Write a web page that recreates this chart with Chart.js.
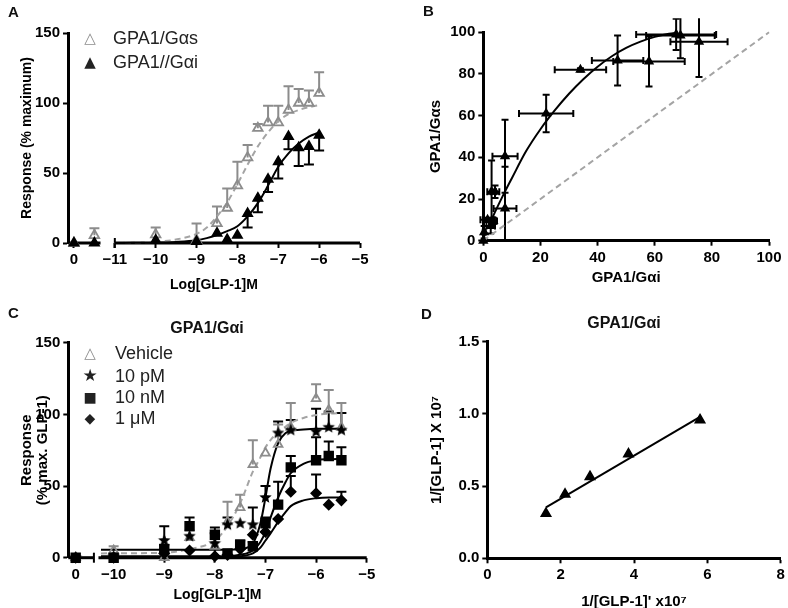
<!DOCTYPE html>
<html lang="en">
<head>
<meta charset="UTF-8">
<title>GPA1/Gαs vs GPA1/Gαi responses to GLP-1</title>
<script src="https://cdn.jsdelivr.net/npm/chart.js@4"></script>
<style>
  body { margin: 0; background: #fff; font-family: "Liberation Sans", Arial, Helvetica, sans-serif; color: #111; }
  #fig { position: relative; width: 788px; height: 608px; overflow: hidden; }
  canvas { position: absolute; }
  .lab { position: absolute; font-weight: bold; font-size: 15px; line-height: 15px; }
  .ttl { position: absolute; font-weight: bold; font-size: 16px; line-height: 16px; transform: translateX(-50%); white-space: nowrap; }
  .leg { position: absolute; font-size: 18px; line-height: 18px; white-space: nowrap; color: #222; }
  .leg .m { display: inline-block; width: 24px; text-align: center; font-family: "DejaVu Sans", sans-serif; font-size: 15px; vertical-align: 1px; }
  .grey { color: #8c8c8c; }
</style>
</head>
<body>
<div id="fig">
  <canvas id="chartA" width="394" height="300" style="left:0;top:0"></canvas>
  <canvas id="chartB" width="394" height="300" style="left:394px;top:0"></canvas>
  <canvas id="chartC" width="394" height="308" style="left:0;top:300px"></canvas>
  <canvas id="chartD" width="394" height="308" style="left:394px;top:300px"></canvas>

  <div class="lab" style="left:8px;top:4px">A</div>
  <div class="lab" style="left:423px;top:3px">B</div>
  <div class="lab" style="left:8px;top:305px">C</div>
  <div class="lab" style="left:421px;top:306px">D</div>

  <div class="ttl" style="left:207px;top:320px">GPA1/Gαi</div>
  <div class="ttl" style="left:624px;top:315px">GPA1/Gαi</div>

  <div class="leg" style="left:78px;top:29px"><span class="m grey" style="margin-right:11px">△</span>GPA1/Gαs</div>
  <div class="leg" style="left:78px;top:53px"><span class="m" style="margin-right:11px">▲</span>GPA1//Gαi</div>

  <div class="leg" style="left:78px;top:344px"><span class="m grey" style="margin-right:13px">△</span>Vehicle</div>
  <div class="leg" style="left:78px;top:366px"><span class="m" style="margin-right:13px;font-size:17px">★</span>10 pM</div>
  <div class="leg" style="left:78px;top:388px"><span class="m" style="margin-right:13px;font-size:14px">■</span>10 nM</div>
  <div class="leg" style="left:78px;top:409px"><span class="m" style="margin-right:13px;font-size:14px">◆</span>1 μM</div>
</div>

<script>
// ---------- Panel A: concentration-response, GPA1/Gαs vs GPA1/Gαi ----------
const ctrlPosA = [0, 0.5];            // control points on the short left axis segment
const doseA = [-10, -9, -8.5, -8.25, -8, -7.75, -7.5, -7.25, -7, -6.75, -6.5, -6.25, -6];
const gasCtrlA = [0, 5.5];
const gasCtrlErrA = [0, 5];
const gasA = [6, 2, 14, 25, 41, 61, 82, 86, 86, 95, 100, 100, 107];
const gasErrA = [5, 12, 12, 14, 17, 9, 3, 12, 12, 17, 10, 9, 15];
const gaiCtrlA = [0, 0];
const gaiCtrlErrA = [0, 0];
const gaiA = [2, 1, 7, 2.5, 5.5, 21, 32, 45.5, 58, 76, 68, 69, 77];
const gaiErrA = [0, 0, 0, 0, 0, 10, 10, 9, 12, 9, 13, 13, 11];
const fitXA = [-11, -10.5, -10, -9.5, -9, -8.75, -8.5, -8.25, -8, -7.75, -7.5, -7.25, -7, -6.75, -6.5, -6.25, -6];
const fitGasA = [0, 0.3, 0.8, 2.5, 6.5, 11, 19, 29, 42, 56, 69, 79, 87, 92, 95, 97, 98.5];
const fitGaiA = [0, 0.1, 0.3, 0.8, 2, 3.5, 5.7, 8.5, 12, 19, 28.5, 41, 54.5, 64, 71, 76, 79];
const xTicksCtrlA = [0];
const xTicksDoseA = [-11, -10, -9, -8, -7, -6, -5];
const yTicksA = [0, 50, 100, 150];

// ---------- Panel B: Gαs vs Gαi bias plot ----------
const bX =    [0, 0.3, 2.6, 3.5, 1.5, 2.9, 4.1, 7.6, 7.6, 22, 34, 47, 58, 67.5, 69, 75.5];
const bY =    [0, 4, 7, 9.5, 10, 23.5, 23.5, 40.5, 15.5, 61, 82, 86.5, 86, 99, 98.5, 95.5];
const bXErr = [0, 0.5, 1.5, 1.3, 2.5, 1.5, 1.5, 4.4, 4, 9.5, 9, 9, 12.5, 14, 12, 10];
const bYErr = [0, 3, 3.5, 1.5, 1, 15, 3, 17.5, 20, 9, 0.8, 12, 12, 7.5, 11, 17];
const fitXB = [1.5, 4, 7, 10, 15, 20, 25, 30, 35, 40, 45, 50, 55, 60, 65, 68];
const fitYB = [6, 13.5, 22, 30, 43, 53.5, 62.5, 70.5, 77.5, 83.5, 88.5, 92.5, 95.5, 97.8, 99.3, 99.8];
const unityB = [0, 100];
const ticksB = [0, 20, 40, 60, 80, 100];

// ---------- Panel C: GPA1/Gαi with antagonist ----------
const doseC = [-10, -9, -8.5, -8, -7.75, -7.5, -7.25, -7, -6.75, -6.5, -6, -5.75, -5.5];
const ctrlC = [0];
const vehC = [5, 0, 14, 8, 25, 35, 65, 73, 79, 91, 111, 103, 91];
const vehErrC = [3, 0, 5, 0, 14, 9, 17, 0, 14, 17, 10, 14, 17];
const pm10C = [1, 12, 15, 10, 23, 24, 23, 42, 87, 89, 88, 91, 89];
const pm10ErrC = [0, 10, 0, 7, 5, 0, 12, 8, 8, 7, 16, 11, 12];
const nm10C = [0, 6, 22, 16, 3, 9, 8, 24, 37, 63, 68, 71, 68];
const nm10ErrC = [0, 3, 6, 5, 0, 3, 3, 4, 16, 8, 16, 10, 9];
const um1C = [0, 3, 5, 1, 2, 6, 16, 18, 27, 46, 45, 37, 40];
const um1ErrC = [0, 0, 0, 16, 0, 0, 0, 0, 0, 11, 13, 0, 6];
const fitXC = [-10.25, -9, -8.5, -8, -7.75, -7.5, -7.25, -7.1, -7, -6.9, -6.75, -6.6, -6.5, -6.25, -6, -5.75, -5.5];
const fitVehC = [3, 3.5, 6, 12, 22, 38, 60, 70, 77, 82, 88, 91.5, 94, 97.5, 99.5, 100.5, 101];
const fitPm10C = [5.5, 5.5, 5.5, 5.5, 5.5, 6, 10, 24, 42, 62, 80, 87, 88.5, 89.5, 90, 90, 90];
const fitNm10C = [1, 1, 1, 1, 1, 2, 5, 11, 18, 28, 42, 53, 59, 65.5, 68, 68.7, 69];
const fitUm1C = [0.5, 0.5, 0.5, 0.5, 0.5, 1, 3, 7, 12, 17, 25, 32, 36, 40, 41.5, 42, 42];
const xTicksCtrlC = [0];
const xTicksDoseC = [-10, -9, -8, -7, -6, -5];
const yTicksC = [0, 50, 100, 150];

// ---------- Panel D: double reciprocal plot ----------
const dX = [1.6, 2.12, 2.8, 3.85, 5.8];
const dY = [0.31, 0.443, 0.565, 0.722, 0.958];
const fitXD = [1.6, 5.8];
const fitYD = [0.353, 0.98];
const xTicksD = [0, 2, 4, 6, 8];
const yTicksD = [0, 0.5, 1.0, 1.5];
const yLabelsD = ['0.0', '0.5', '1.0', '1.5'];

// dose values live on the right-hand axis segment, shifted past the control segment
const SHIFT_A = 12;
const SHIFT_C = 10.75;

const FONT = '"Liberation Sans", Arial, Helvetica, sans-serif';
const GREY = '#8c8c8c';
const GREY_LINE = '#a4a4a4';
const minus = v => String(v).replace('-', '\u2212');

function pts(xs, ys, shift) {
  return xs.map((x, i) => ({ x: x + (shift || 0), y: ys[i] }));
}

function starImage(r) {
  const c = document.createElement('canvas');
  const s = Math.ceil(r * 2) + 2;
  c.width = c.height = s;
  const g = c.getContext('2d');
  g.fillStyle = '#000';
  g.beginPath();
  for (let k = 0; k < 10; k++) {
    const rad = k % 2 ? r * 0.45 : r;
    const a = -Math.PI / 2 + k * Math.PI / 5;
    const px = s / 2 + rad * Math.cos(a), py = s / 2 + rad * Math.sin(a);
    if (k) g.lineTo(px, py); else g.moveTo(px, py);
  }
  g.closePath();
  g.fill();
  return c;
}

// error bars, read from errY / errX arrays kept on each dataset
const errorBars = {
  id: 'errorBars',
  beforeDatasetsDraw(chart) {
    const { ctx, chartArea: ca, scales: { x, y } } = chart;
    ctx.save();
    ctx.beginPath();
    ctx.rect(ca.left - 14, ca.top - 14, ca.right - ca.left + 28, ca.bottom - ca.top + 14);
    ctx.clip();
    chart.data.datasets.forEach(ds => {
      if (!ds.errY && !ds.errX) return;
      ctx.strokeStyle = ds.errColor || '#000';
      ctx.lineWidth = ds.errWidth || 2;
      const cap = ds.errCap || 5;
      const dirs = ds.errDir === 'up' ? [1] : ds.errDir === 'down' ? [-1] : [1, -1];
      ds.data.forEach((p, i) => {
        const px = x.getPixelForValue(p.x), py = y.getPixelForValue(p.y);
        const ey = ds.errY ? ds.errY[i] : 0;
        const ex = ds.errX ? ds.errX[i] : 0;
        if (ey) dirs.forEach(d => {
          const ty = y.getPixelForValue(p.y + d * ey);
          ctx.beginPath();
          ctx.moveTo(px, py); ctx.lineTo(px, ty);
          ctx.moveTo(px - cap, ty); ctx.lineTo(px + cap, ty);
          ctx.stroke();
        });
        if (ex) [1, -1].forEach(d => {
          const tx = x.getPixelForValue(p.x + d * ex);
          ctx.beginPath();
          ctx.moveTo(px, py); ctx.lineTo(tx, py);
          ctx.moveTo(tx, py - cap); ctx.lineTo(tx, py + cap);
          ctx.stroke();
        });
      });
    });
    ctx.restore();
  }
};

// x axis drawn in two pieces (control segment + dose segment)
const brokenAxis = {
  id: 'brokenAxis',
  beforeDatasetsDraw(chart, args, opts) {
    if (!opts || !opts.segments) return;
    const { ctx, chartArea, scales: { x } } = chart;
    const y = chartArea.bottom;
    ctx.save();
    ctx.strokeStyle = '#000';
    ctx.lineWidth = 3;
    opts.segments.forEach(([a, b]) => {
      ctx.beginPath();
      ctx.moveTo(x.getPixelForValue(a), y);
      ctx.lineTo(x.getPixelForValue(b), y);
      ctx.stroke();
    });
    ctx.lineWidth = 2;
    (opts.bars || []).forEach(v => {
      const px = x.getPixelForValue(v);
      ctx.beginPath();
      ctx.moveTo(px, y - 5); ctx.lineTo(px, y + 5);
      ctx.stroke();
    });
    ctx.restore();
  }
};

function axis(o) {
  return {
    type: 'linear',
    min: o.min, max: o.max,
    border: { display: o.border !== false, color: '#000', width: 3 },
    grid: { drawOnChartArea: false, drawTicks: true, tickLength: 5, tickWidth: 2, tickColor: '#000' },
    ticks: {
      color: '#000', padding: 3, autoSkip: false, maxRotation: 0,
      font: { family: FONT, size: 15, weight: 'bold' },
      callback: (v, i) => o.labels ? o.labels[i] : v
    },
    afterBuildTicks: s => { s.ticks = o.ticks.map(v => ({ value: v })); },
    afterFit: s => { if (s.isHorizontal()) s.height = o.size; else s.width = o.size; },
    title: {
      display: true, text: o.title, color: '#000',
      font: { family: FONT, size: o.tsize || 14, weight: 'bold', lineHeight: o.lh || 1.2 },
      padding: o.tpad
    }
  };
}

function markers(data, style, opts) {
  return Object.assign({
    data, showLine: false, clip: false,
    pointStyle: style, pointRadius: 5.5, pointHoverRadius: 5.5,
    backgroundColor: '#000', borderColor: '#000', borderWidth: 1.5
  }, opts);
}

function fitLine(data, color, dash) {
  return {
    data, showLine: true, pointRadius: 0, clip: false,
    borderColor: color, borderWidth: 2, borderDash: dash || [],
    cubicInterpolationMode: 'monotone', fill: false
  };
}

const base = (padding, extra) => ({
  responsive: false, animation: false, devicePixelRatio: 1, events: [],
  layout: { padding },
  plugins: Object.assign({ legend: { display: false }, tooltip: { enabled: false } }, extra || {})
});

Chart.register(errorBars, brokenAxis);

// ---- A ----
const xTickPosA = xTicksCtrlA.concat(xTicksDoseA.map(v => v + SHIFT_A));
new Chart(document.getElementById('chartA'), {
  type: 'scatter',
  data: {
    datasets: [
      markers(pts(ctrlPosA, gaiCtrlA).concat(pts(doseA, gaiA, SHIFT_A)), 'triangle',
        { errY: gaiCtrlErrA.concat(gaiErrA), errDir: 'down', errColor: '#000' }),
      markers(pts(ctrlPosA, gasCtrlA).concat(pts(doseA, gasA, SHIFT_A)), 'triangle',
        { backgroundColor: 'rgba(0,0,0,0)', borderColor: GREY, borderWidth: 1.8,
          errY: gasCtrlErrA.concat(gasErrA), errDir: 'up', errColor: GREY }),
      fitLine(pts(fitXA, fitGaiA, SHIFT_A), '#000'),
      fitLine(pts(fitXA, fitGasA, SHIFT_A), GREY_LINE, [6, 4])
    ]
  },
  options: Object.assign(base({ left: 0, right: 34, top: 33, bottom: 0 },
    { brokenAxis: { segments: [[-0.146, 0.65], [1, 7]], bars: [1] } }), {
    scales: {
      x: axis({ min: -0.146, max: 7, ticks: xTickPosA,
        labels: xTicksCtrlA.concat(xTicksDoseA).map(minus), size: 57, border: false,
        title: 'Log[GLP-1]M', tpad: { top: 0, bottom: 6.6 } }),
      y: axis({ min: 0, max: 150, ticks: yTicksA, size: 68,
        title: 'Response (% maximum)', tpad: { top: 18.6, bottom: 0 } })
    }
  })
});

// ---- B ----
new Chart(document.getElementById('chartB'), {
  type: 'scatter',
  data: {
    datasets: [
      markers(pts(bX, bY), 'triangle', { pointRadius: 4.5, errX: bXErr, errY: bYErr,
        errDir: 'both', errCap: 3.5, errColor: '#000' }),
      fitLine(pts(fitXB, fitYB), '#000'),
      Object.assign(fitLine(pts(unityB, unityB), GREY_LINE, [6, 4]), { cubicInterpolationMode: 'default' })
    ]
  },
  options: Object.assign(base({ left: 0, right: 19, top: 32.3, bottom: 0 }), {
    scales: {
      x: axis({ min: 0, max: 100, ticks: ticksB, size: 59.3, tsize: 15,
        title: 'GPA1/Gαi', tpad: { top: 0, bottom: 13 } }),
      y: axis({ min: 0, max: 100, ticks: ticksB, size: 89.3, tsize: 15,
        title: 'GPA1/Gαs', tpad: { top: 32.7, bottom: 0 } })
    }
  })
});

// ---- C ----
const star = starImage(6.5);
const xTickPosC = xTicksCtrlC.concat(xTicksDoseC.map(v => v + SHIFT_C));
const seriesC = vals => pts(ctrlC, [0]).concat(pts(doseC, vals, SHIFT_C));
const errsC = errs => [0].concat(errs);
new Chart(document.getElementById('chartC'), {
  type: 'scatter',
  data: {
    datasets: [
      markers(seriesC(um1C), 'rectRot', { pointRadius: 5, errY: errsC(um1ErrC), errDir: 'up' }),
      markers(seriesC(nm10C), 'rect', { pointRadius: 6.3, errY: errsC(nm10ErrC), errDir: 'up' }),
      markers(seriesC(pm10C), star, { errY: errsC(pm10ErrC), errDir: 'up' }),
      markers(seriesC(vehC), 'triangle', { pointRadius: 5, backgroundColor: 'rgba(0,0,0,0)',
        borderColor: GREY, borderWidth: 1.8, errY: errsC(vehErrC), errDir: 'up', errColor: GREY }),
      fitLine(pts(fitXC, fitUm1C, SHIFT_C), '#000'),
      fitLine(pts(fitXC, fitNm10C, SHIFT_C), '#000'),
      fitLine(pts(fitXC, fitPm10C, SHIFT_C), '#000'),
      fitLine(pts(fitXC, fitVehC, SHIFT_C), GREY_LINE, [6, 4])
    ]
  },
  options: Object.assign(base({ left: 0, right: 27.3, top: 42.7, bottom: 0 },
    { brokenAxis: { segments: [[-0.146, 0.36], [0.45, 5.75]], bars: [0.36] } }), {
    scales: {
      x: axis({ min: -0.146, max: 5.75, ticks: xTickPosC,
        labels: xTicksCtrlC.concat(xTicksDoseC).map(minus), size: 50.3, border: false,
        title: 'Log[GLP-1]M', tpad: { top: 0, bottom: 4.6 } }),
      y: axis({ min: 0, max: 150, ticks: yTicksC, size: 68.3, tsize: 15, lh: 1.05,
        title: ['Response', '(% max. GLP-1)'], tpad: { top: 19.1, bottom: 0 } })
    }
  })
});

// ---- D ----
new Chart(document.getElementById('chartD'), {
  type: 'scatter',
  data: {
    datasets: [
      markers(pts(dX, dY), 'triangle', { pointRadius: 5.5 }),
      Object.assign(fitLine(pts(fitXD, fitYD), '#000'), { cubicInterpolationMode: 'default' })
    ]
  },
  options: Object.assign(base({ left: 0, right: 7.3, top: 41.7, bottom: 0 }), {
    scales: {
      x: axis({ min: 0, max: 8, ticks: xTicksD, size: 49.7, tsize: 15, lh: 1,
        title: '1/[GLP-1]\' x10\u2077', tpad: { top: 0, bottom: -1 } }),
      y: axis({ min: 0, max: 1.5, ticks: yTicksD, labels: yLabelsD, size: 93.3, tsize: 15,
        title: '1/[GLP-1] X 10\u2077', tpad: { top: 34, bottom: 0 } })
    }
  })
});
</script>
</body>
</html>
